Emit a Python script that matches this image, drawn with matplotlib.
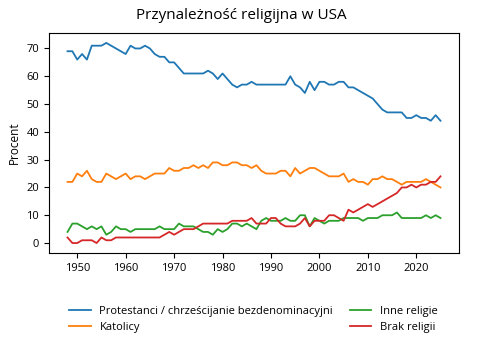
import numpy as np
import matplotlib
matplotlib.use("Agg")
import matplotlib.pyplot as plt

plt.rcParams['font.family'] = ['Open Sans', 'DejaVu Sans']

# Gallup-like annual data, 1948-2025
lata = list(range(1948, 2026))

protestanci = [69, 69, 66, 68, 66, 71, 71, 71, 72, 71,
               70, 69, 68, 71, 70, 70, 71, 70, 68, 67,
               67, 65, 65, 63, 61, 61, 61, 61, 61, 62,
               61, 59, 61, 59, 57, 56, 57, 57, 58, 57,
               57, 57, 57, 57, 57, 57, 60, 57, 56, 54,
               58, 55, 58, 58, 57, 57, 58, 58, 56, 56,
               55, 54, 53, 52, 50, 48, 47, 47, 47, 47,
               45, 45, 46, 45, 45, 44, 46, 44]

katolicy = [22, 22, 25, 24, 26, 23, 22, 22, 25, 24,
            23, 24, 25, 23, 24, 24, 23, 24, 25, 25,
            25, 27, 26, 26, 27, 27, 28, 27, 28, 27,
            29, 29, 28, 28, 29, 29, 28, 28, 27, 28,
            26, 25, 25, 25, 26, 26, 24, 27, 25, 26,
            27, 27, 26, 25, 24, 24, 24, 25, 22, 23,
            22, 22, 21, 23, 23, 24, 23, 23, 22, 21,
            22, 22, 22, 22, 23, 22, 21, 20]

inne = [4, 7, 7, 6, 5, 6, 5, 6, 3, 4,
        6, 5, 5, 4, 5, 5, 5, 5, 5, 6,
        5, 5, 5, 7, 6, 6, 6, 5, 4, 4,
        3, 5, 4, 5, 7, 7, 6, 7, 6, 5,
        8, 9, 8, 8, 8, 9, 8, 8, 10, 10,
        6, 9, 8, 7, 8, 8, 8, 9, 9, 9,
        9, 8, 9, 9, 9, 10, 10, 10, 11, 9,
        9, 9, 9, 9, 10, 9, 10, 9]

brak = [2, 0, 0, 1, 1, 1, 0, 2, 1, 1,
        2, 2, 2, 2, 2, 2, 2, 2, 2, 2,
        3, 4, 3, 4, 5, 5, 5, 6, 7, 7,
        7, 7, 7, 7, 8, 8, 8, 8, 9, 7,
        7, 7, 9, 9, 7, 6, 6, 6, 7, 9,
        6, 8, 8, 8, 10, 10, 9, 8, 12, 11,
        12, 13, 14, 13, 14, 15, 16, 17, 18, 20,
        20, 21, 20, 21, 21, 22, 22, 24]

etykiety = ['Protestanci / chrześcijanie bezdenominacyjni', 'Katolicy',
            'Inne religie', 'Brak religii']
kolory = ['#1f77b4', '#ff7f0e', '#2ca02c', '#d62728']

fig = plt.figure(figsize=(5.04, 3.5), dpi=100)
ax = fig.add_axes([0.097, 0.277, 0.814, 0.629])

for seria, et, kol in zip([protestanci, katolicy, inne, brak], etykiety, kolory):
    ax.plot(lata, seria, color=kol, lw=1.3, label=et)

ax.set_xticks(range(1950, 2030, 10))
ax.set_yticks(range(0, 80, 10))
ax.tick_params(labelsize=8)
ax.set_ylabel('Procent', fontsize=8.5)

fig.text(0.478, 0.955, 'Przynależność religijna w USA', ha='center', va='center', fontsize=11)

fig.legend(loc='center', bbox_to_anchor=(0.503, 0.088), ncol=2, frameon=False,
           fontsize=8, handlelength=1.9, handletextpad=0.8, columnspacing=1.5,
           labelspacing=0.45)

fig.savefig('out.png', dpi=100)
